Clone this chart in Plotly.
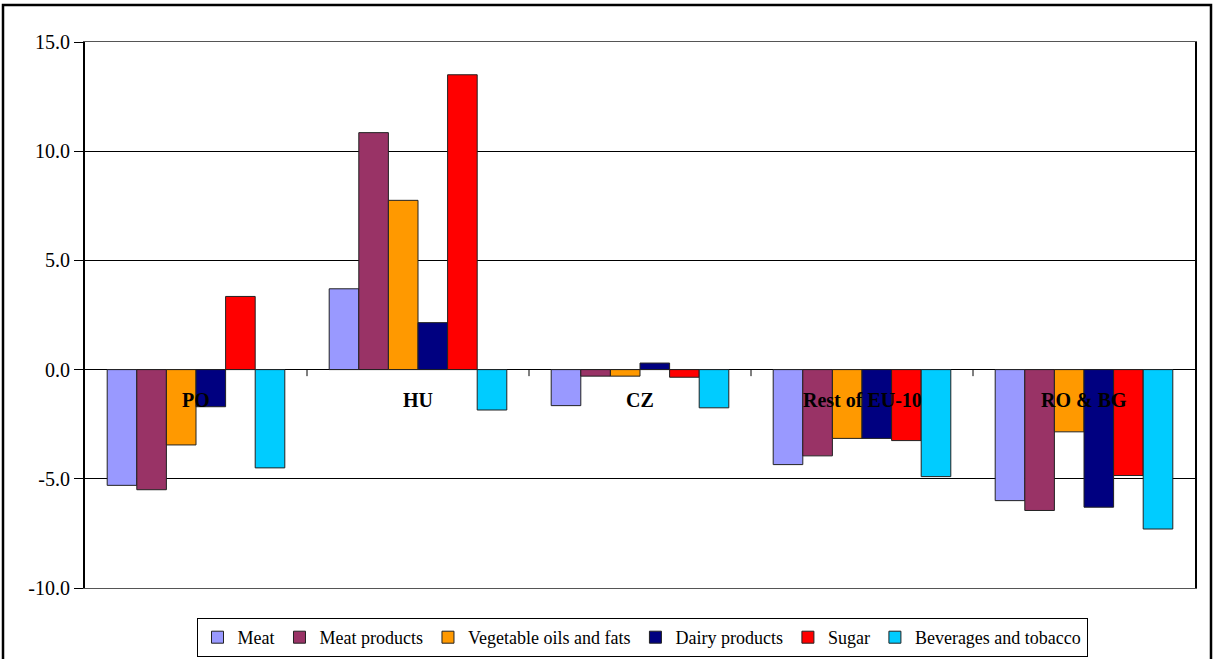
import plotly.graph_objects as go

categories = ["PO", "HU", "CZ", "Rest of EU-10", "RO & BG"]
series_names = ["Meat", "Meat products", "Vegetable oils and fats", "Dairy products", "Sugar", "Beverages and tobacco"]
meat = [-5.3, 3.7, -1.65, -4.35, -6.0]
meat_products = [-5.5, 10.85, -0.3, -3.95, -6.45]
veg_oils = [-3.45, 7.75, -0.3, -3.15, -2.85]
dairy = [-1.7, 2.15, 0.3, -3.15, -6.3]
sugar = [3.35, 13.5, -0.35, -3.25, -4.85]
beverages = [-4.5, -1.85, -1.75, -4.9, -7.3]
colors = ["#9999FF", "#993366", "#FF9900", "#000080", "#FF0000", "#00CCFF"]
y_ticks = [-10, -5, 0, 5, 10, 15]

values = [meat, meat_products, veg_oils, dairy, sugar, beverages]

fig = go.Figure()
for name, vals, col in zip(series_names, values, colors):
    fig.add_trace(go.Bar(x=categories, y=vals, name=name,
                         marker=dict(color=col, line=dict(color="#222222", width=1))))

W, H = 1214, 659
L, R, T, B = 85, 19, 42, 71
pw, ph = W - L - R, H - T - B

def px_x(p):
    return (p - L) / pw

def px_y(p):
    return (T + ph - p) / ph

shapes = []
for i in range(len(categories) - 1):
    shapes.append(dict(type="line", xref="x", yref="y", x0=i + 0.5, x1=i + 0.5,
                       y0=0, y1=-0.3, line=dict(color="black", width=1)))
shapes.append(dict(type="rect", xref="paper", yref="paper", x0=px_x(3), x1=px_x(1211),
                   y0=px_y(675), y1=px_y(5), line=dict(color="black", width=2.5), layer="below"))

annotations = []
for c in categories:
    annotations.append(dict(x=c, y=0, xref="x", yref="y", text="<b>%s</b>" % c, showarrow=False,
                            yanchor="top", yshift=-17,
                            font=dict(family="Liberation Serif", size=20, color="black")))

fig.update_layout(
    width=W, height=H,
    margin=dict(l=L, r=R, t=T, b=B, autoexpand=False),
    plot_bgcolor="white", paper_bgcolor="white",
    barmode="group", bargap=0.2, bargroupgap=0,
    font=dict(family="Liberation Serif", size=18, color="black"),
    showlegend=True,
    legend=dict(orientation="h", x=px_x(642), xanchor="center", y=px_y(618), yanchor="top",
                bordercolor="black", borderwidth=1, font=dict(family="Liberation Serif", size=18),
                itemwidth=30, tracegroupgap=0),
    shapes=shapes,
    annotations=annotations,
    xaxis=dict(showticklabels=False, ticks="", showgrid=False, showline=True, linecolor="#555555",
               mirror=True, linewidth=1),
    yaxis=dict(range=[-10, 15], tickvals=y_ticks, ticktext=["%.1f" % v for v in y_ticks],
               ticks="outside", ticklen=9,
               tickcolor="black", showgrid=True, gridcolor="black", gridwidth=1,
               zeroline=True, zerolinecolor="black", zerolinewidth=1,
               showline=True, linecolor="black", linewidth=2, mirror=True,
               tickfont=dict(family="Liberation Serif", size=20)),
)

fig.write_html("out.html", config={"displayModeBar": False},
               post_script="document.body.style.margin='0';document.body.style.overflow='hidden';")
